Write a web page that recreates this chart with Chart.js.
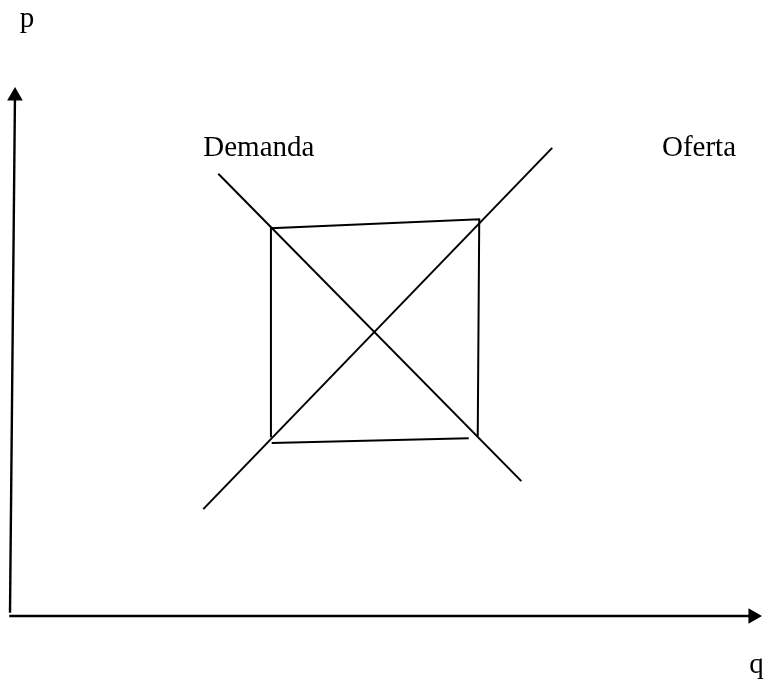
<!DOCTYPE html>
<html>
<head>
<meta charset="utf-8">
<script src="https://cdn.jsdelivr.net/npm/chart.js@4/dist/chart.umd.min.js"></script>
<style>
  html, body { margin: 0; padding: 0; background: #fff; }
  #wrap { width: 767px; height: 685px; }
</style>
</head>
<body>
<div id="wrap"><canvas id="chart"></canvas></div>
<script>
// Supply / demand sketch: two crossing lines with a box round the crossing.
// Units: q and p both run 0..100 along the drawn axes.

// ── Data ──────────────────────────────────────────────────────────────────
const demandQ = [27.7, 68.0];
const demandP = [83.6, 25.5];

const supplyQ = [25.7, 72.1];
const supplyP = [20.2, 88.5];

// box: left side, top, right side (one open path), then the bottom edge
const boxQ    = [34.7, 34.7, 62.4, 62.2];
const boxP    = [33.8, 73.3, 75.0, 34.0];
const bottomQ = [61.0, 34.8];
const bottomP = [33.6, 32.7];

// axes end at the arrow head centres
const axisYQ = [0, 0.66];
const axisYP = [0.6, 98.3];
const axisXQ = [-0.1, 98.8];
const axisXP = [0, 0];

const labelText = ['p', 'q', 'Demanda', 'Oferta'];
const labelQ    = [1.3, 98.3, 25.7, 86.7];
const labelP    = [111.3, -10.8, 87.0, 87.0];

const pts = (qs, ps) => qs.map((q, i) => ({ x: q, y: ps[i] }));

function lineSet(qs, ps, width) {
  return {
    data: pts(qs, ps),
    showLine: true,
    borderColor: '#000',
    borderWidth: width,
    pointRadius: 0,
    pointHoverRadius: 0,
    tension: 0,
    clip: false
  };
}

function arrowSet(qs, ps, rot) {
  return {
    ...lineSet(qs, ps, 2.4),
    pointStyle: 'triangle',
    pointRadius: [0, 9],
    rotation: [0, rot],
    pointBackgroundColor: '#000',
    pointBorderColor: '#000',
    pointBorderWidth: 0
  };
}

// ── Text labels, placed through the scales ────────────────────────────────
const labelPlugin = {
  id: 'labels',
  afterDatasetsDraw(chart) {
    const { ctx, scales: { x, y } } = chart;
    ctx.save();
    ctx.fillStyle = '#000';
    ctx.font = '29px "Liberation Serif", "Times New Roman", serif';
    ctx.textAlign = 'left';
    ctx.textBaseline = 'alphabetic';
    labelText.forEach((t, i) => {
      ctx.fillText(t, x.getPixelForValue(labelQ[i]), y.getPixelForValue(labelP[i]));
    });
    ctx.restore();
  }
};

// chart area is inset by the 9px arrow head radius; limits allow for that
new Chart(document.getElementById('chart'), {
  type: 'scatter',
  data: {
    datasets: [
      lineSet(demandQ, demandP, 2),
      lineSet(supplyQ, supplyP, 2),
      lineSet(boxQ, boxP, 2),
      lineSet(bottomQ, bottomP, 2),
      arrowSet(axisYQ, axisYP, 0.5),
      arrowSet(axisXQ, axisXP, 90)
    ]
  },
  options: {
    responsive: true,
    maintainAspectRatio: false,
    animation: false,
    layout: { padding: 0 },
    plugins: {
      legend: { display: false },
      tooltip: { enabled: false }
    },
    scales: {
      x: { type: 'linear', display: false, min: -0.133, max: 99.47 },
      y: { type: 'linear', display: false, min: -11.34, max: 114.75 }
    }
  },
  plugins: [labelPlugin]
});
</script>
</body>
</html>
